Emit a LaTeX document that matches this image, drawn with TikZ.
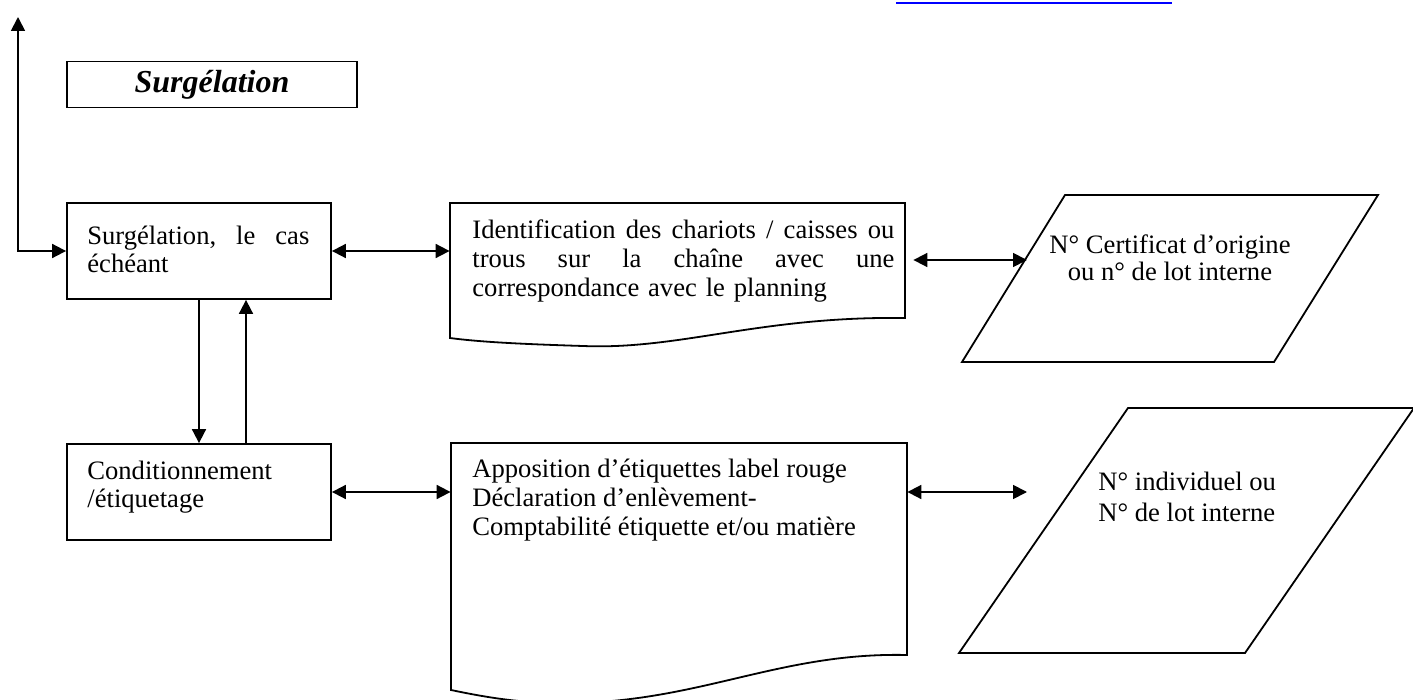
\documentclass[tikz,border=0pt]{standalone}
\usepackage{fontspec}
\setmainfont{Liberation Serif}
\usetikzlibrary{arrows.meta}
\newcommand{\spreadline}[2]{\leavevmode\hbox to #1{#2}}
\begin{document}
\begin{tikzpicture}[x=0.5pt,y=-0.5pt,
  outline/.style={draw=black, line width=0.9pt},
  boxnode/.style={outline, rectangle, inner sep=0pt},
  area/.style={rectangle, inner sep=0pt},
  txt/.style={anchor=north west, inner sep=0pt, align=left},
  link/.style={line width=0.9pt, {Triangle[length=7pt,width=7pt]}-{Triangle[length=7pt,width=7pt]}},
  flow/.style={line width=0.9pt, -{Triangle[length=7pt,width=7pt]}}]
\useasboundingbox (0,0) rectangle (1413,700);

% hyperlink underline of the running header
\draw[blue, line width=1pt] (896,3) -- (1172,3);

% section title
\node[boxnode, minimum width=145pt, minimum height=23pt,
      font=\fontsize{16}{19}\selectfont\bfseries\itshape] (title) at (212,84.5) {Surgélation};

% step: freezing
\node[boxnode, minimum width=132pt, minimum height=48pt] (s1) at (199,251) {};
\node[txt, text width=112pt, font=\fontsize{13.3}{13.8}\selectfont] (s1t) at (87,226)
  {\spreadline{111pt}{Surgélation,\hfill le\hfill cas}\\échéant};

% record: trolley identification (document shape)
\node[area, minimum width=227.5pt, minimum height=57.5pt] (id) at (677.5,260.5) {};
\draw[outline] (450,338) -- (450,203) -- (905,203) -- (905,318)
  .. controls (760,316) and (680,350) .. (583,346)
  .. controls (520,344) and (480,342) .. (450,338) -- cycle;
\node[txt, text width=211pt, font=\fontsize{13.3}{14.5}\selectfont] (idt) at (472,219)
  {\spreadline{211pt}{Identification\hfill des\hfill chariots\hfill /\hfill caisses\hfill ou}\\
   \spreadline{211pt}{trous\hfill sur\hfill la\hfill chaîne\hfill avec\hfill une}\\
   correspondance avec le planning};

% data: certificate number
\draw[outline] (1065,195) -- (1378,195) -- (1274,362) -- (962,362) -- cycle;
\node[txt, anchor=north, align=center, font=\fontsize{13.3}{13.5}\selectfont] (p1t) at (1170,234)
  {N° Certificat d’origine\\ou n° de lot interne};
\coordinate (p1w) at (1027,260);

% step: packaging
\node[boxnode, minimum width=132pt, minimum height=48pt] (c1) at (199,492) {};
\node[txt, font=\fontsize{13.3}{13.8}\selectfont] (c1t) at (87,461)
  {Conditionnement\\/étiquetage};

% record: labelling (document shape)
\node[area, minimum width=228pt, minimum height=106pt] (ap) at (679,549) {};
\draw[outline] (451,690) -- (451,443) -- (907,443) -- (907,655)
  .. controls (780,652) and (700,702) .. (570,703)
  .. controls (520,704) and (480,696) .. (451,690) -- cycle;
\node[txt, font=\fontsize{13.3}{14.5}\selectfont] (apt) at (472,459)
  {Apposition d’étiquettes label rouge\\Déclaration d’enlèvement-\\Comptabilité étiquette et/ou matière};

% data: individual number
\draw[outline] (1128,408) -- (1414,408) -- (1245,653) -- (959,653) -- cycle;
\node[txt, font=\fontsize{13.3}{15.5}\selectfont] (p2t) at (1098,472)
  {N° individuel ou\\N° de lot interne};
\coordinate (p2w) at (1027,492);

% connectors
\coordinate (up) at (18,17);
\draw[link] (up) |- (s1.west);
\draw[link] (s1.east) -- (s1.east -| id.west);
\draw[link, shorten <=4pt] (id.east |- p1w) -- (p1w);
\draw[flow] (s1.south) -- (c1.north);
\draw[flow] ([xshift=23.5pt]c1.north) -- ([xshift=23.5pt]s1.south);
\draw[link] (c1.east) -- (c1.east -| ap.west);
\draw[link] (ap.east |- p2w) -- (p2w);
\end{tikzpicture}
\end{document}
